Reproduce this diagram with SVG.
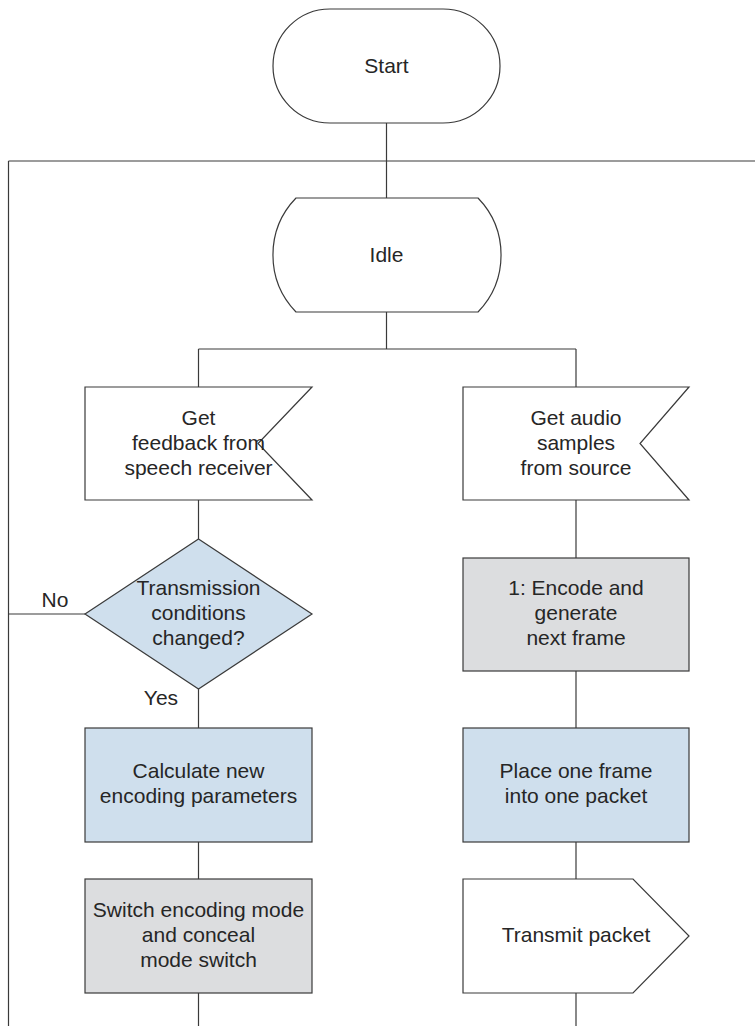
<svg xmlns="http://www.w3.org/2000/svg" width="755" height="1026" viewBox="0 0 755 1026">
<style>
.shape{stroke:#3a3a3a;stroke-width:1.2;fill:#ffffff}
.blue{fill:#cfdfed}
.gray{fill:#dcdddf}
.conn line{stroke:#3a3a3a;stroke-width:1.2;fill:none}
text{font-family:"Liberation Sans",Arial,sans-serif;font-size:21px;fill:#262626;text-anchor:middle}
</style>
<rect width="755" height="1026" fill="#ffffff"/>
<g id="connectors" class="conn">
<line x1="386.5" y1="123" x2="386.5" y2="198"/>
<line x1="8.5" y1="161" x2="755" y2="161"/>
<line x1="8.5" y1="161" x2="8.5" y2="1026"/>
<line x1="8.5" y1="614" x2="85" y2="614"/>
<line x1="386.5" y1="312" x2="386.5" y2="349"/>
<line x1="198.5" y1="349" x2="576" y2="349"/>
<line x1="198.5" y1="349" x2="198.5" y2="387"/>
<line x1="198.5" y1="500" x2="198.5" y2="539"/>
<line x1="198.5" y1="689" x2="198.5" y2="728"/>
<line x1="198.5" y1="842" x2="198.5" y2="879"/>
<line x1="198.5" y1="993" x2="198.5" y2="1026"/>
<line x1="576" y1="349" x2="576" y2="387"/>
<line x1="576" y1="500" x2="576" y2="558"/>
<line x1="576" y1="671" x2="576" y2="728"/>
<line x1="576" y1="842" x2="576" y2="879"/>
<line x1="576" y1="993" x2="576" y2="1026"/>
</g>
<g id="labels">
<text x="55" y="607">No</text>
<text x="161" y="705">Yes</text>
</g>
<g id="start">
<rect class="shape" x="273" y="9" width="227" height="114" rx="57" ry="57"/>
<text x="386.5" y="73">Start</text>
</g>
<g id="idle">
<path class="shape" d="M296,198 L478,198 A82,82 0 0 1 478,312 L296,312 A82,82 0 0 1 296,198 Z"/>
<text x="386.5" y="262">Idle</text>
</g>
<g id="get-feedback">
<path class="shape" d="M85,387 L312,387 L258,443.5 L312,500 L85,500 Z"/>
<text x="198.5" y="424.5">Get</text>
<text x="198.5" y="449.5">feedback from</text>
<text x="198.5" y="474.5">speech receiver</text>
</g>
<g id="get-audio">
<path class="shape" d="M463,387 L689,387 L640,443.5 L689,500 L463,500 Z"/>
<text x="576" y="424.5">Get audio</text>
<text x="576" y="449.5">samples</text>
<text x="576" y="474.5">from source</text>
</g>
<g id="decision">
<path class="shape blue" d="M198.5,539 L312,614 L198.5,689 L85,614 Z"/>
<text x="198.5" y="595">Transmission</text>
<text x="198.5" y="620">conditions</text>
<text x="198.5" y="645">changed?</text>
</g>
<g id="encode">
<rect class="shape gray" x="463" y="558" width="226" height="113"/>
<text x="576" y="595">1: Encode and</text>
<text x="576" y="620">generate</text>
<text x="576" y="645">next frame</text>
</g>
<g id="calculate">
<rect class="shape blue" x="85" y="728" width="227" height="114"/>
<text x="198.5" y="778">Calculate new</text>
<text x="198.5" y="803">encoding parameters</text>
</g>
<g id="place">
<rect class="shape blue" x="463" y="728" width="226" height="114"/>
<text x="576" y="778">Place one frame</text>
<text x="576" y="803">into one packet</text>
</g>
<g id="switch">
<rect class="shape gray" x="85" y="879" width="227" height="114"/>
<text x="198.5" y="917">Switch encoding mode</text>
<text x="198.5" y="942">and conceal</text>
<text x="198.5" y="967">mode switch</text>
</g>
<g id="transmit">
<path class="shape" d="M463,879 L633,879 L689,936 L633,993 L463,993 Z"/>
<text x="576" y="942">Transmit packet</text>
</g>
</svg>
